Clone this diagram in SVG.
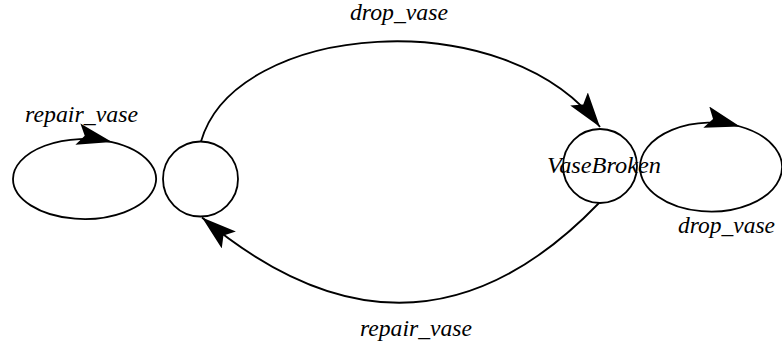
<svg xmlns="http://www.w3.org/2000/svg" width="782" height="349" viewBox="0 0 782 349">
  <style>
    .state { fill: none; stroke: #000; stroke-width: 1.8; }
    .edge { fill: none; stroke: #000; stroke-width: 1.8; marker-end: url(#head); }
    .label { font-family: "Liberation Serif", "Times New Roman", serif; font-style: italic; font-size: 24px; fill: #000; }
  </style>
  <defs>
    <marker id="head" markerUnits="userSpaceOnUse" markerWidth="38" markerHeight="24" refX="35" refY="11" orient="auto">
      <path d="M0,0 L35,11 L0,22 L7,11 Z" fill="#000"/>
    </marker>
  </defs>

  <!-- states -->
  <g id="state-ok">
    <circle class="state" cx="200.5" cy="179" r="37.5"/>
  </g>
  <g id="state-broken">
    <circle class="state" cx="600" cy="166" r="37"/>
    <text class="label" x="547" y="173" textLength="114" lengthAdjust="spacingAndGlyphs">VaseBroken</text>
  </g>

  <!-- transitions -->
  <g id="connectors">
    <!-- self loop on the intact state -->
    <path class="edge" d="M112,142.1 A71.5,40 0 1 1 13,179 A71.5,40 0 0 1 112,142.1"/>
    <!-- intact to broken -->
    <path class="edge" d="M201,141.5 C235,22 505,0 600,127"/>
    <!-- broken to intact -->
    <path class="edge" d="M599,203 Q413.5,395 202,217.5"/>
    <!-- self loop on the broken state -->
    <path class="edge" d="M740,126.5 A71,44.5 0 1 1 640,167.5 A71,44.5 0 0 1 740,126.5"/>
  </g>

  <g id="labels">
    <text class="label" x="25" y="122" textLength="113" lengthAdjust="spacingAndGlyphs">repair_vase</text>
    <text class="label" x="350" y="20" textLength="98" lengthAdjust="spacingAndGlyphs">drop_vase</text>
    <text class="label" x="360" y="336" textLength="112" lengthAdjust="spacingAndGlyphs">repair_vase</text>
    <text class="label" x="678" y="233" textLength="97" lengthAdjust="spacingAndGlyphs">drop_vase</text>
  </g>
</svg>
